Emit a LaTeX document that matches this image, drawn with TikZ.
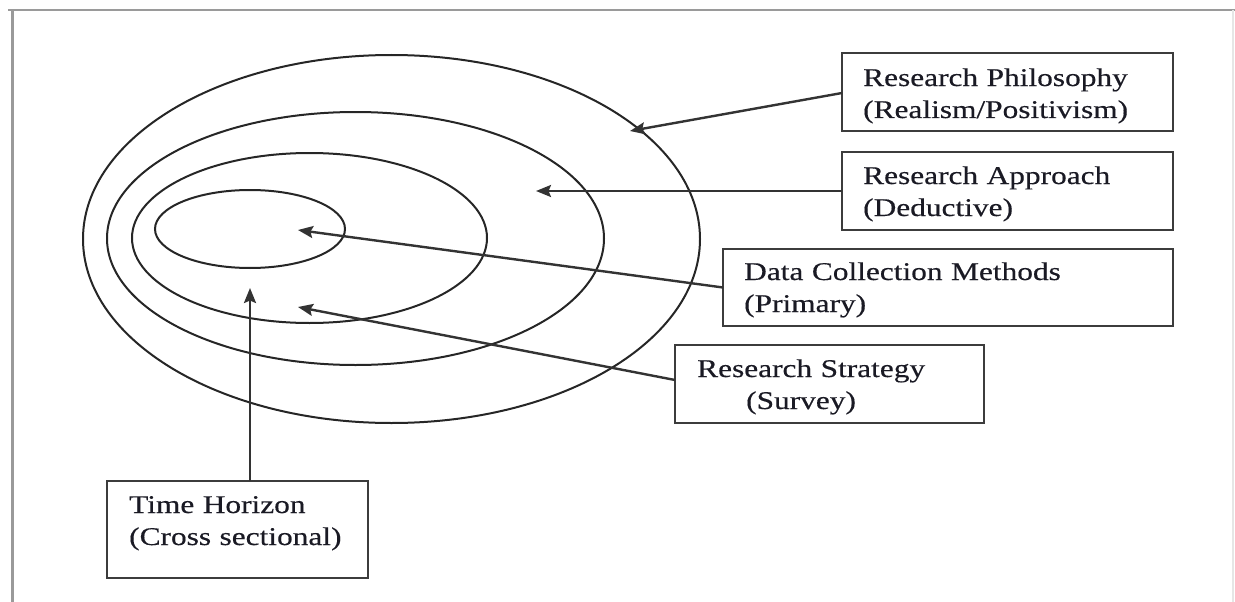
\documentclass[tikz,border=0pt]{standalone}
\usepackage{fontspec}
\setmainfont{Liberation Serif}[FakeStretch=1.23,FakeBold=0.4]
\usetikzlibrary{arrows.meta,shapes.geometric}
\definecolor{ringcol}{HTML}{262626}
\definecolor{arrcol}{HTML}{333333}
\definecolor{boxcol}{HTML}{3C3C3C}
\definecolor{txtcol}{HTML}{1A1A24}
\definecolor{framecol}{HTML}{9A9A9A}
\definecolor{framelight}{HTML}{E6E6E6}
\begin{document}
\begin{tikzpicture}[x=1pt,y=-1pt,
  ring/.style={draw=ringcol,line width=2pt,ellipse,inner sep=0pt,outer sep=0pt},
  arr/.style={draw=arrcol,line width=2.4pt,-{Stealth[length=15pt,width=12pt,inset=2.5pt]}},
  box/.style={draw=boxcol,line width=2.6pt,rectangle,inner sep=0pt,outer sep=0pt,anchor=north west},
  txt/.style={text=txtcol,font=\fontsize{25.5}{32}\selectfont,anchor=base west,inner sep=0pt,align=left,text width=340pt}]
\useasboundingbox (0,0) rectangle (1235,602);
% frame
\draw[framecol,line width=2pt] (8,10) -- (1235,10);
\draw[framecol,line width=3pt] (12,10) -- (12,602);
\draw[framelight,line width=1.5pt] (1233,10) -- (1233,602);
% rings
\node[ring,minimum width=617pt,minimum height=368pt] (outer) at (391.5,239) {};
\node[ring,minimum width=497pt,minimum height=253pt] (second) at (355.5,238.5) {};
\node[ring,minimum width=355pt,minimum height=170pt] (third) at (309.5,238) {};
\node[ring,minimum width=190pt,minimum height=78pt] (inner) at (250,229) {};
% boxes
\node[box,minimum width=331pt,minimum height=78pt] (phil) at (842,53) {};
\node[box,minimum width=331pt,minimum height=78pt] (appr) at (842,152) {};
\node[box,minimum width=450pt,minimum height=77pt] (data) at (723,249) {};
\node[box,minimum width=309pt,minimum height=78pt] (strat) at (675,345) {};
\node[box,minimum width=261pt,minimum height=97pt] (time) at (107,481) {};
% texts
\node[txt] (philT) at (863,86) {Research Philosophy\\(Realism/Positivism)};
\node[txt] (apprT) at (863,184) {Research Approach\\(Deductive)};
\node[txt] (dataT) at (744,280) {Data Collection Methods\\(Primary)};
\node[txt] (stratT) at (697,377) {Research Strategy\\\hspace*{49pt}(Survey)};
\node[txt] (timeT) at (129,513) {Time Horizon\\(Cross sectional)};
% arrow tips
\coordinate (tPhil) at (630,131);
\coordinate (tAppr) at (536,191);
\coordinate (tData) at (298,230);
\coordinate (tStrat) at (298,307);
\coordinate (tTime) at (250,288);
% arrows
\draw[arr] ([yshift=-1pt]phil.west) -- (tPhil);
\draw[arr] (appr.west) -- (tAppr);
\draw[arr] (data.west) -- (tData);
\draw[arr] ([yshift=4pt]strat.west) -- (tStrat);
\draw[arr] (tTime |- time.north) -- (tTime);
\end{tikzpicture}
\end{document}
